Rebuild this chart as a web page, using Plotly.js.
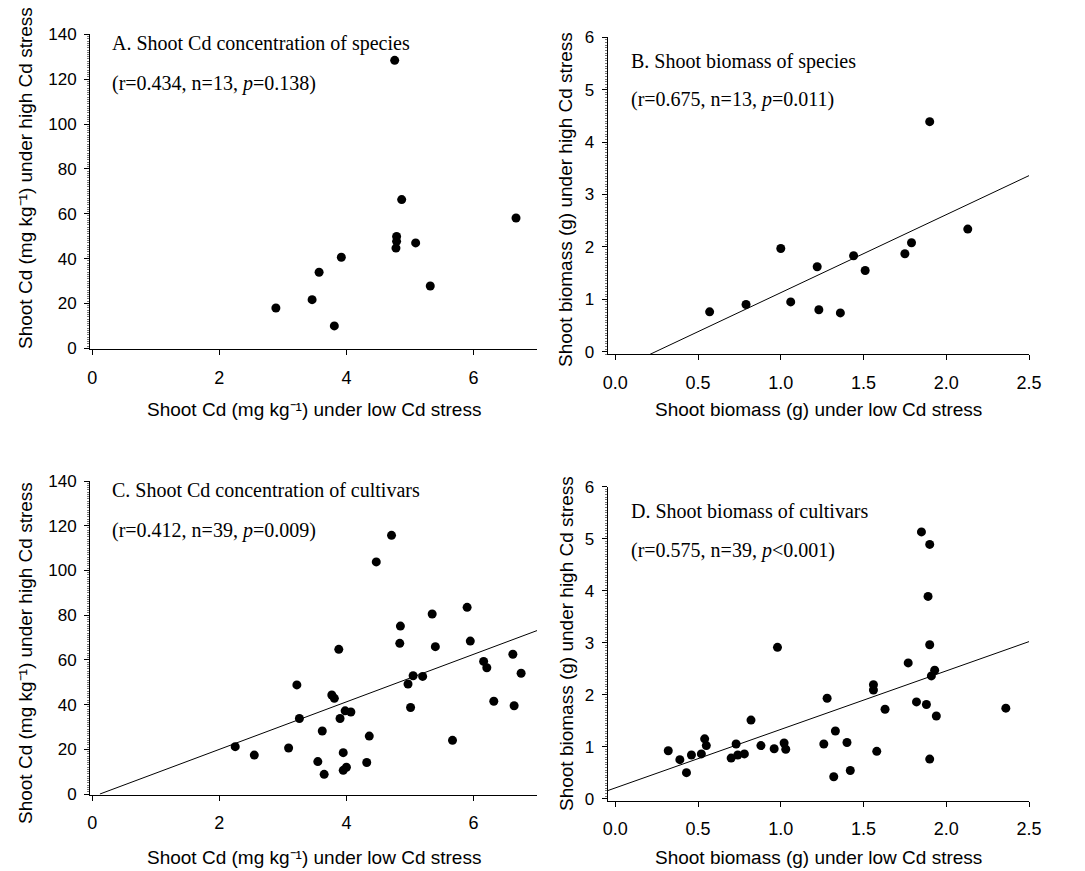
<!DOCTYPE html>
<html>
<head>
<meta charset="utf-8">
<script src="https://cdn.plot.ly/plotly-3.0.1.min.js"></script>
<style>
html,body{margin:0;padding:0;background:#fff;}
#chart{width:1085px;height:871px;}
</style>
</head>
<body>
<div id="chart"></div>
<script>
// ---- Data ----
// A. Shoot Cd concentration of species
const aX = [2.89, 3.46, 3.57, 3.81, 3.92, 4.76, 4.87, 4.79, 4.79, 4.78, 5.09, 5.32, 6.67];
const aY = [18.0, 21.7, 33.9, 10.0, 40.6, 128.4, 66.3, 49.9, 47.7, 44.7, 47.0, 27.8, 58.1];
// B. Shoot biomass of species
const bX = [0.57, 0.79, 1.00, 1.06, 1.22, 1.23, 1.36, 1.44, 1.51, 1.75, 1.79, 1.90, 2.13];
const bY = [0.76, 0.90, 1.97, 0.95, 1.62, 0.80, 0.74, 1.83, 1.55, 1.87, 2.08, 4.39, 2.34];
const fitBx = [0.21, 2.5];
const fitBy = [-0.05, 3.36];
// C. Shoot Cd concentration of cultivars
const cX = [2.25, 2.55, 3.09, 3.22, 3.26, 3.55, 3.62, 3.65, 3.77, 3.81, 3.88, 3.90, 3.95, 3.95, 4.00, 3.98, 4.07, 4.32, 4.36, 4.47, 4.71, 4.84, 4.85, 4.97, 5.01, 5.05, 5.20, 5.35, 5.40, 5.67, 5.90, 5.95, 6.16, 6.21, 6.32, 6.62, 6.64, 6.75];
const cY = [21.2, 17.4, 20.6, 48.8, 33.8, 14.5, 28.2, 8.8, 44.3, 42.8, 64.7, 33.8, 18.5, 10.6, 12.0, 37.2, 36.7, 14.1, 25.9, 103.8, 115.7, 67.4, 75.1, 49.2, 38.7, 52.9, 52.6, 80.5, 65.9, 24.0, 83.5, 68.4, 59.3, 56.5, 41.5, 62.5, 39.5, 54.0];
const fitCx = [0.12, 7.0];
const fitCy = [0, 73.1];
// D. Shoot biomass of cultivars
const dX = [0.32, 0.39, 0.43, 0.46, 0.52, 0.54, 0.55, 0.70, 0.73, 0.74, 0.78, 0.82, 0.88, 0.96, 0.98, 1.02, 1.03, 1.26, 1.28, 1.32, 1.33, 1.40, 1.42, 1.56, 1.56, 1.58, 1.63, 1.77, 1.82, 1.85, 1.88, 1.89, 1.90, 1.90, 1.90, 1.91, 1.93, 1.94, 2.36];
const dY = [0.92, 0.75, 0.50, 0.84, 0.86, 1.15, 1.02, 0.78, 1.05, 0.84, 0.86, 1.51, 1.02, 0.96, 2.91, 1.07, 0.95, 1.05, 1.93, 0.42, 1.30, 1.08, 0.54, 2.19, 2.09, 0.91, 1.72, 2.61, 1.86, 5.13, 1.81, 3.89, 2.96, 4.89, 0.76, 2.36, 2.47, 1.59, 1.74];
const fitDx = [-0.046, 2.5];
const fitDy = [0.154, 3.02];

const cdTicks = [0, 2, 4, 6];
const cdYTicks = [0, 20, 40, 60, 80, 100, 120, 140];
const bmTicks = [0.0, 0.5, 1.0, 1.5, 2.0, 2.5];
const bmTickText = ["0.0", "0.5", "1.0", "1.5", "2.0", "2.5"];
const bmYTicks = [0, 1, 2, 3, 4, 5, 6];

const panelText = [
  ["A. Shoot Cd concentration of species", "(r=0.434, n=13, <i>p</i>=0.138)"],
  ["B. Shoot biomass of species", "(r=0.675, n=13, <i>p</i>=0.011)"],
  ["C. Shoot Cd concentration of cultivars", "(r=0.412, n=39, <i>p</i>=0.009)"],
  ["D. Shoot biomass of cultivars", "(r=0.575, n=39, <i>p</i>&lt;0.001)"]
];
const xTitleCd = "Shoot Cd (mg kg\u207B\u00B9) under low Cd stress";
const yTitleCd = "Shoot Cd (mg kg\u207B\u00B9) under high Cd stress";
const xTitleBm = "Shoot biomass (g) under low Cd stress";
const yTitleBm = "Shoot biomass (g) under high Cd stress";

// ---- Layout helpers ----
const W = 1085, H = 871;
const fx = p => p / W;
const fy = p => 1 - p / H;

const mk = {color: "black", size: 9};
function pts(x, y, xa, ya) {
  return {x: x, y: y, xaxis: xa, yaxis: ya, type: "scatter", mode: "markers",
          marker: mk, hoverinfo: "skip", showlegend: false, cliponaxis: false};
}
function fit(x, y, xa, ya) {
  return {x: x, y: y, xaxis: xa, yaxis: ya, type: "scatter", mode: "lines",
          line: {color: "black", width: 1}, hoverinfo: "skip", showlegend: false};
}

const data = [
  pts(aX, aY, "x", "y"),
  fit(fitBx, fitBy, "x2", "y2"), pts(bX, bY, "x2", "y2"),
  fit(fitCx, fitCy, "x3", "y3"), pts(cX, cY, "x3", "y3"),
  fit(fitDx, fitDy, "x4", "y4"), pts(dX, dY, "x4", "y4")
];

const xTickFont = {family: "Liberation Sans, Arial, sans-serif", size: 18, color: "black"};
const yTickFont = {family: "Liberation Sans, Arial, sans-serif", size: 17, color: "black"};
function xax(dom, range, ticks, text, anchor) {
  const o = {domain: dom, range: range, anchor: anchor, showline: true, linecolor: "black",
    linewidth: 1, zeroline: false, showgrid: false, ticks: "outside", ticklen: 5,
    tickwidth: 1, tickcolor: "black", tickfont: xTickFont, tickmode: "array",
    tickvals: ticks, ticklabelstandoff: 7, fixedrange: true};
  if (text) o.ticktext = text;
  return o;
}
function yax(dom, range, ticks, anchor, mdt) {
  return {domain: dom, range: range, anchor: anchor, showline: true, linecolor: "black",
    linewidth: 1, zeroline: false, showgrid: false, ticks: "outside", ticklen: 5,
    tickwidth: 1, tickcolor: "black", tickfont: yTickFont, tickmode: "array",
    tickvals: ticks, ticklabelstandoff: 4, fixedrange: true,
    minor: {ticks: "outside", ticklen: 2, tickwidth: 1, tickcolor: "#777", dtick: mdt, tick0: 0, showgrid: false}};
}

const annFont = {family: "Liberation Serif, Times New Roman, serif", size: 20, color: "black"};
const titleFont = {family: "Liberation Sans, Arial, sans-serif", size: 19, color: "black"};
const annotations = [];
const annPos = [[110, 43, 83], [629, 62, 100], [110, 490, 530], [629, 511, 550]];
panelText.forEach((t, i) => {
  const p = annPos[i];
  annotations.push({xref: "paper", yref: "paper", x: fx(p[0]), y: fy(p[1]), xanchor: "left",
    yanchor: "middle", text: t[0], showarrow: false, font: annFont});
  annotations.push({xref: "paper", yref: "paper", x: fx(p[0]), y: fy(p[2]), xanchor: "left",
    yanchor: "middle", text: t[1], showarrow: false, font: annFont});
});
const titles = [
  [xTitleCd, 313.5, 409, 0], [yTitleCd, 25, 178, -90],
  [xTitleBm, 818, 410, 0], [yTitleBm, 566, 200, -90],
  [xTitleCd, 313.5, 857, 0], [yTitleCd, 25, 653, -90],
  [xTitleBm, 818, 857, 0], [yTitleBm, 566, 644, -90]
];
titles.forEach(t => {
  annotations.push({xref: "paper", yref: "paper", x: fx(t[1]), y: fy(t[2]), xanchor: "center",
    yanchor: "middle", text: t[0], textangle: t[3], showarrow: false, font: titleFont});
});

const layout = {
  width: W, height: H,
  margin: {l: 0, r: 0, t: 0, b: 0},
  paper_bgcolor: "white", plot_bgcolor: "white",
  showlegend: false,
  xaxis:  xax([fx(90), fx(537)], [-0.036, 7.0], cdTicks, null, "y"),
  yaxis:  yax([fy(349), fy(34.3)], [-0.3, 140], cdYTicks, "x", 1),
  xaxis2: xax([fx(607.7), fx(1029)], [-0.046, 2.5], bmTicks, bmTickText, "y2"),
  yaxis2: yax([fy(354.3), fy(37.3)], [-0.05, 6], bmYTicks, "x2", 0.05),
  xaxis3: xax([fx(90), fx(537)], [-0.036, 7.0], cdTicks, null, "y3"),
  yaxis3: yax([fy(794.7), fy(481)], [-0.3, 140], cdYTicks, "x3", 1),
  xaxis4: xax([fx(607.7), fx(1029)], [-0.046, 2.5], bmTicks, bmTickText, "y4"),
  yaxis4: yax([fy(800.7), fy(486.7)], [-0.04, 6], bmYTicks, "x4", 0.05),
  annotations: annotations
};

Plotly.newPlot("chart", data, layout, {displayModeBar: false, staticPlot: true});
</script>
</body>
</html>
